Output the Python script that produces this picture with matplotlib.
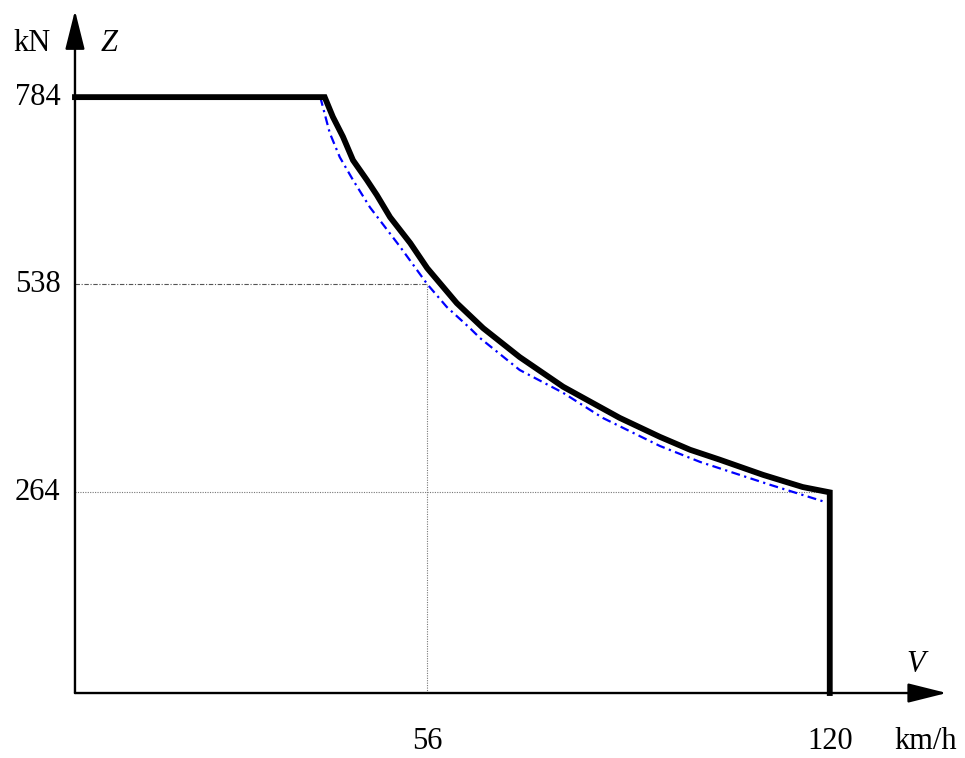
import matplotlib.pyplot as plt

plt.rcParams['font.family'] = ['Liberation Serif', 'DejaVu Serif']

# Данные
v_black = [0, 39.7, 41.0, 42.6, 44.2, 46.4, 48.0, 50.1, 53.3, 56.0, 60.7,
           64.9, 70.7, 77.6, 86.6, 93.0, 97.8, 102.5, 109.4, 115.7, 120.0,
           120.0]
z_black = [784, 784, 758, 732, 701, 675, 655, 626, 592, 559, 513,
           480, 442, 403, 362, 337, 320, 307, 287, 271, 264,
           0]

v_blue = [39.0, 40.5, 42.1, 44.2, 46.9, 51.7, 56.0, 59.1, 62.8, 64.4, 70.7,
          77.6, 83.9, 93.0, 99.4, 110.5, 119.4]
z_blue = [784, 737, 705, 675, 639, 587, 538, 508, 480, 467, 425,
          395, 362, 325, 304, 274, 251]

z_ticks = [784, 538, 264]
v_ticks = [56, 120]

fig = plt.figure(figsize=(9.65, 7.58), dpi=100)
ax = fig.add_axes([0, 0, 1, 1])
ax.set_xlim(-11.92, 141.5)
ax.set_ylim(-85.5, 911.8)
ax.axis('off')

# оси со стрелками
arrow = dict(arrowstyle='-|>,head_length=0.8,head_width=0.2', color='black',
             lw=1.7, mutation_scale=30, shrinkA=0, shrinkB=0)
ax.annotate('', xy=(0, 898), xytext=(0, 0), arrowprops=arrow)
ax.annotate('', xy=(138.6, 0), xytext=(0, 0), arrowprops=arrow)

# вспомогательные линии
ax.plot([0, 56], [538, 538], color='#555555', lw=0.8, ls=(0, (4, 1.5, 1, 1.5)))
ax.plot([56, 56], [0, 538], color='#777777', lw=0.8, ls=(0, (1, 1.2)))
ax.plot([0, 120], [264, 264], color='#777777', lw=0.8, ls=(0, (1, 1.2)))

# кривые
ax.plot(v_blue, z_blue, color='blue', lw=1.6, ls=(0, (4, 2, 1, 2)), zorder=3)
ax.plot(v_black, z_black, color='black', lw=4.2, solid_joinstyle='miter',
        zorder=4)

fs = 22
for z in z_ticks:
    ax.text(-2.3, z, str(z), ha='right', va='center', fontsize=fs)
for v in v_ticks:
    ax.text(v, -64, str(v), ha='center', va='center', fontsize=fs)

ax.text(-9.8, 855, 'kN', ha='left', va='center', fontsize=fs)
ax.text(4.0, 855, 'Z', ha='left', va='center', fontsize=fs, style='italic')
ax.text(135.2, -64, 'km/h', ha='center', va='center', fontsize=fs)
ax.text(133.6, 38, 'V', ha='center', va='center', fontsize=fs, style='italic')

plt.savefig('out.png', dpi=100)
